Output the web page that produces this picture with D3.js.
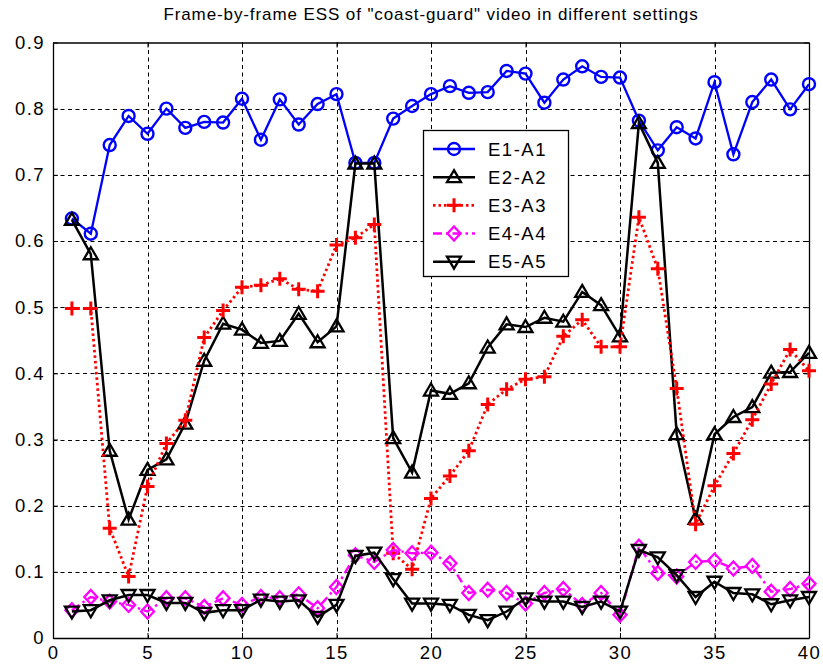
<!DOCTYPE html>
<html>
<head>
<meta charset="utf-8">
<script src="https://cdn.jsdelivr.net/npm/d3@7"></script>
<style>
  body { margin: 0; background: #fff; }
  svg { display: block; font-family: "Liberation Sans", Arial, sans-serif; }
</style>
</head>
<body>
<svg id="chart" width="823" height="671"></svg>
<script>
// Frame-by-frame ESS values
const frames = [1, 2, 3, 4, 5, 6, 7, 8, 9, 10, 11, 12, 13, 14, 15, 16, 17, 18, 19, 20,
    21, 22, 23, 24, 25, 26, 27, 28, 29, 30, 31, 32, 33, 34, 35, 36, 37, 38, 39, 40];

const e1a1 = [0.634, 0.611, 0.745, 0.789, 0.762, 0.800, 0.771, 0.780, 0.779, 0.815,
    0.753, 0.814, 0.776, 0.807, 0.822, 0.718, 0.718, 0.785, 0.804, 0.822,
    0.834, 0.824, 0.825, 0.857, 0.853, 0.809, 0.844, 0.864, 0.848, 0.847,
    0.782, 0.737, 0.772, 0.755, 0.840, 0.731, 0.810, 0.844, 0.799, 0.837];

const e2a2 = [0.632, 0.580, 0.283, 0.179, 0.254, 0.270, 0.324, 0.419, 0.475, 0.466,
    0.446, 0.449, 0.490, 0.447, 0.471, 0.717, 0.717, 0.302, 0.250, 0.374,
    0.369, 0.385, 0.439, 0.474, 0.470, 0.484, 0.478, 0.523, 0.503, 0.456,
    0.778, 0.718, 0.308, 0.180, 0.308, 0.334, 0.349, 0.401, 0.402, 0.431];

const e3a3 = [0.498, 0.498, 0.166, 0.093, 0.229, 0.294, 0.329, 0.454, 0.495, 0.530,
    0.533, 0.543, 0.527, 0.524, 0.594, 0.605, 0.625, 0.128, 0.104, 0.211,
    0.245, 0.283, 0.353, 0.376, 0.391, 0.395, 0.456, 0.481, 0.440, 0.440,
    0.636, 0.558, 0.377, 0.172, 0.230, 0.279, 0.330, 0.384, 0.436, 0.404];

const e4a4 = [0.042, 0.062, 0.055, 0.050, 0.040, 0.060, 0.060, 0.047, 0.060, 0.050,
    0.062, 0.060, 0.066, 0.045, 0.077, 0.125, 0.115, 0.133, 0.128, 0.129,
    0.113, 0.068, 0.073, 0.068, 0.052, 0.068, 0.074, 0.050, 0.068, 0.035,
    0.138, 0.098, 0.093, 0.115, 0.117, 0.105, 0.109, 0.070, 0.074, 0.082];

const e5a5 = [0.040, 0.042, 0.057, 0.065, 0.065, 0.053, 0.053, 0.038, 0.042, 0.042,
    0.058, 0.055, 0.057, 0.032, 0.050, 0.124, 0.129, 0.089, 0.052, 0.052,
    0.050, 0.035, 0.027, 0.040, 0.060, 0.055, 0.055, 0.047, 0.055, 0.040,
    0.133, 0.122, 0.095, 0.062, 0.085, 0.068, 0.066, 0.051, 0.057, 0.062];

const xTicks = [0, 5, 10, 15, 20, 25, 30, 35, 40];
const yTicks = [0, 0.1, 0.2, 0.3, 0.4, 0.5, 0.6, 0.7, 0.8, 0.9];
const yTickLabels = ['0', '0.1', '0.2', '0.3', '0.4', '0.5', '0.6', '0.7', '0.8', '0.9'];

const titleText = 'Frame-by-frame ESS of "coast-guard" video in different settings';

// series styling (legend order = draw order)
const series = [
    { name: 'E1-A1', values: e1a1, color: '#0000ff', dash: null, marker: 'circle', width: 2.3 },
    { name: 'E2-A2', values: e2a2, color: '#000000', dash: null, marker: 'triUp', width: 2.5 },
    { name: 'E3-A3', values: e3a3, color: '#ff0000', dash: '2.5,3', marker: 'plus', width: 2.8 },
    { name: 'E4-A4', values: e4a4, color: '#ff00ff', dash: '9,4,2.5,4', marker: 'diamond', width: 2.4 },
    { name: 'E5-A5', values: e5a5, color: '#000000', dash: null, marker: 'triDown', width: 2.5 }
];

const svg = d3.select('#chart');
const plot = { left: 53, right: 809, top: 42.5, bottom: 638 };

const x = d3.scaleLinear().domain([0, 40]).range([plot.left, plot.right]);
const y = d3.scaleLinear().domain([0, 0.9]).range([plot.bottom, plot.top]);

svg.append('rect').attr('width', 823).attr('height', 671).attr('fill', '#fff');

// Grid (dashed, black)
const grid = svg.append('g').attr('stroke', '#000').attr('stroke-width', 1).attr('stroke-dasharray', '4,3.5');
grid.selectAll('.gx').data(xTicks.slice(1, -1)).enter().append('line')
    .attr('x1', d => Math.round(x(d)) + 0.5).attr('x2', d => Math.round(x(d)) + 0.5)
    .attr('y1', plot.top).attr('y2', plot.bottom);
grid.selectAll('.gy').data(yTicks.slice(1, -1)).enter().append('line')
    .attr('y1', d => Math.round(y(d)) + 0.5).attr('y2', d => Math.round(y(d)) + 0.5)
    .attr('x1', plot.left).attr('x2', plot.right);

// Axes, ticks pointing inward on all four sides
const tickFont = g => g.selectAll('text')
    .attr('font-family', '"Liberation Sans", Arial, sans-serif')
    .attr('font-size', 18.5).attr('letter-spacing', 1.4).attr('fill', '#000');

const xAxis = svg.append('g').attr('transform', `translate(0,${plot.bottom})`)
    .call(d3.axisBottom(x).tickValues(xTicks).tickSizeInner(-5).tickSizeOuter(0).tickPadding(8).tickFormat(d3.format('d')));
xAxis.call(tickFont);

const yAxis = svg.append('g').attr('transform', `translate(${plot.left},0)`)
    .call(d3.axisLeft(y).tickValues(yTicks).tickSizeInner(-5).tickSizeOuter(0).tickPadding(8)
        .tickFormat((d, i) => yTickLabels[i]));
yAxis.call(tickFont);

svg.append('g').attr('transform', `translate(0,${plot.top})`)
    .call(d3.axisTop(x).tickValues(xTicks).tickSizeInner(-5).tickSizeOuter(0).tickFormat(''));
svg.append('g').attr('transform', `translate(${plot.right},0)`)
    .call(d3.axisRight(y).tickValues(yTicks).tickSizeInner(-5).tickSizeOuter(0).tickFormat(''));

svg.selectAll('.domain').attr('stroke', '#000').attr('stroke-width', 1.3);
svg.selectAll('.tick line').attr('stroke', '#000');

// Marker shapes
function markerPath(type) {
    switch (type) {
        case 'triUp': return 'M0,-7L7,5L-7,5Z';
        case 'triDown': return 'M0,7L7,-5L-7,-5Z';
        case 'plus': return 'M-7,0L7,0M0,-7L0,7';
        case 'diamond': return 'M0,-7L6.5,0L0,7L-6.5,0Z';
        default: return null;
    }
}

function drawMarker(sel, s) {
    if (s.marker === 'circle') {
        sel.append('circle').attr('r', 6).attr('fill', 'none')
            .attr('stroke', s.color).attr('stroke-width', 2.4);
    } else {
        sel.append('path').attr('d', markerPath(s.marker)).attr('fill', 'none')
            .attr('stroke', s.color).attr('stroke-width', s.marker === 'plus' ? 3 : 2.3)
            .attr('stroke-linejoin', 'miter');
    }
}

const line = d3.line().x((d, i) => x(frames[i])).y(d => y(d));

series.forEach(s => {
    const g = svg.append('g');
    g.append('path').datum(s.values).attr('d', line)
        .attr('fill', 'none').attr('stroke', s.color).attr('stroke-width', s.width)
        .attr('stroke-dasharray', s.dash);
    g.selectAll('.m').data(s.values).enter().append('g')
        .attr('transform', (d, i) => `translate(${x(frames[i])},${y(d)})`)
        .each(function () { drawMarker(d3.select(this), s); });
});

// Title
svg.append('text').attr('x', (plot.left + plot.right) / 2).attr('y', 20)
    .attr('text-anchor', 'middle').attr('font-size', 17).attr('letter-spacing', 0.9)
    .attr('fill', '#000').text(titleText);

// Legend
const leg = svg.append('g');
leg.append('rect').attr('x', 423.5).attr('y', 130.5).attr('width', 145).attr('height', 146)
    .attr('fill', '#fff').attr('stroke', '#000').attr('stroke-width', 1.3);
const rowY = d3.scaleLinear().domain([0, 4]).range([149, 261.7]);
series.forEach((s, i) => {
    const yy = rowY(i);
    leg.append('line').attr('x1', 433).attr('x2', 475).attr('y1', yy).attr('y2', yy)
        .attr('stroke', s.color).attr('stroke-width', s.width).attr('stroke-dasharray', s.dash);
    drawMarker(leg.append('g').attr('transform', `translate(454,${yy})`), s);
    leg.append('text').attr('x', 488).attr('y', yy + 6.5)
        .attr('font-size', 18.5).attr('letter-spacing', 1.5).attr('fill', '#000').text(s.name);
});
</script>
</body>
</html>
